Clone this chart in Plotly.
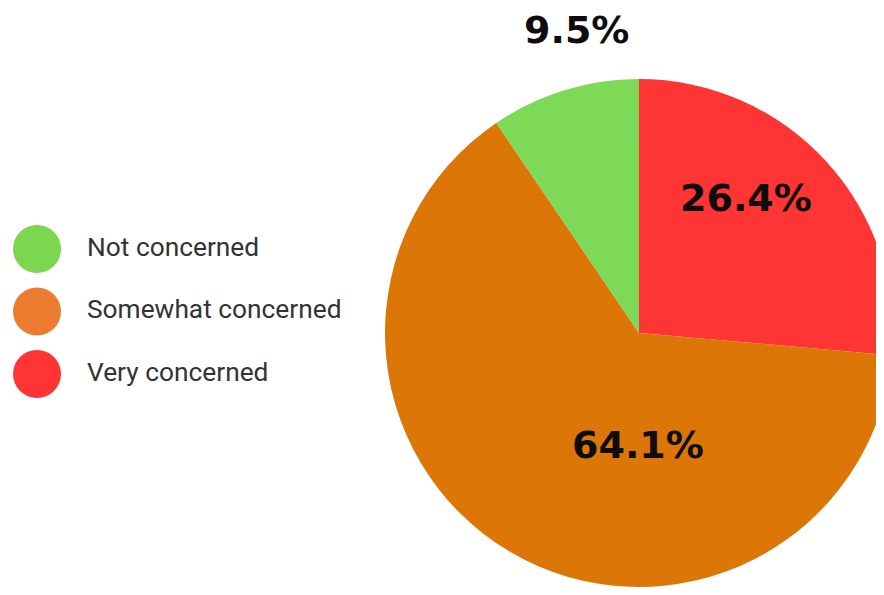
import plotly.graph_objects as go

categories = ["Not concerned", "Somewhat concerned", "Very concerned"]
shares = [9.5, 64.1, 26.4]
pie_colors = ["#7ED957", "#DB7607", "#FF3434"]
legend_colors = ["#7CD650", "#EC7D30", "#FF3434"]
# label anchor points (paper coords) for each share label
label_x = [0.6322, 0.7000, 0.8200]
label_y = [0.9630, 0.2655, 0.6807]

fig = go.Figure()

# pie drawn clockwise from 12 o'clock: Very, Somewhat, Not
fig.add_trace(go.Pie(
    labels=categories[::-1],
    values=shares[::-1],
    sort=False,
    direction="clockwise",
    rotation=0,
    marker=dict(colors=pie_colors[::-1], line=dict(width=0)),
    textinfo="none",
    domain=dict(x=[0.4189, 0.9833], y=[0.0269, 0.8807]),
    showlegend=False,
    hoverinfo="skip",
))

for share, lx, ly in zip(shares, label_x, label_y):
    fig.add_annotation(
        x=lx, y=ly, xref="paper", yref="paper",
        text=f"{share:.1f}%", showarrow=False,
        xanchor="center", yanchor="middle",
        font=dict(family="DejaVu Sans", size=38, color="#0d0d0d", weight="bold"),
    )

# legend drawn as a scatter on a hidden axis
fig.add_trace(go.Scatter(
    x=[0] * len(categories), y=categories, mode="markers",
    marker=dict(size=48, color=legend_colors, line=dict(width=0)),
    showlegend=False, hoverinfo="skip",
))
fig.add_trace(go.Scatter(
    x=[1.0] * len(categories), y=categories, mode="text",
    text=categories, textposition="middle right",
    textfont=dict(family="Roboto", size=26.3, color="#333333"),
    showlegend=False, hoverinfo="skip",
))

fig.update_layout(
    width=900, height=595,
    margin=dict(l=0, r=0, t=0, b=0),
    paper_bgcolor="white", plot_bgcolor="white",
    xaxis=dict(domain=[0, 0.45], range=[-0.58, 7.52], visible=False, fixedrange=True),
    yaxis=dict(domain=[0.3324, 0.6475], range=[2.5, -0.5], type="category",
               visible=False, fixedrange=True),
)

fig.write_html("out.html")
